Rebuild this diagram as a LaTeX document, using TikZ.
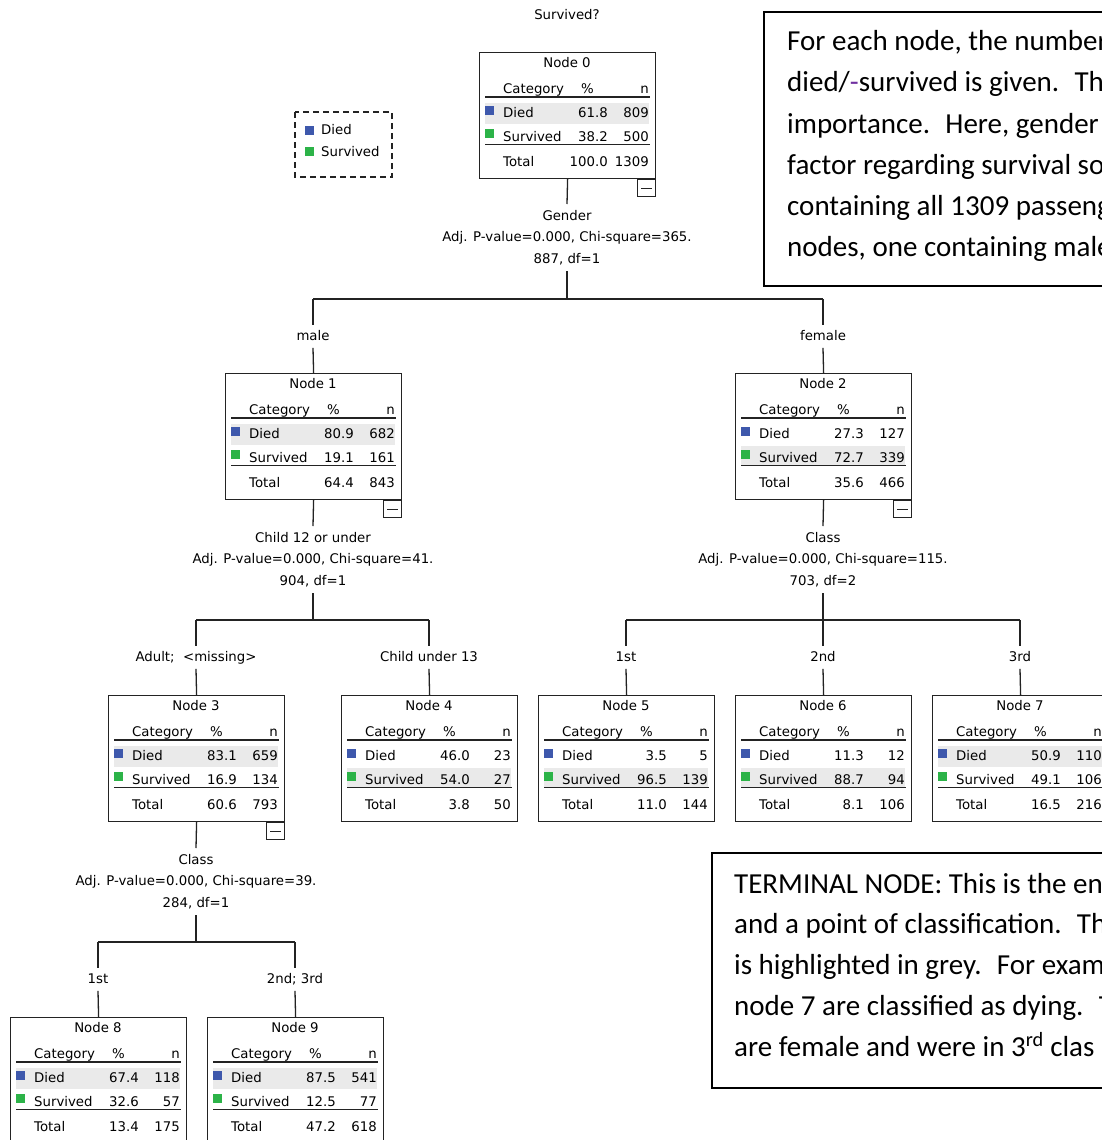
\documentclass[tikz,border=0pt]{standalone}
\usepackage{fontspec}
\setmainfont{DejaVu Sans}
\newfontfamily\cfont{Carlito}
\usetikzlibrary{calc}
\definecolor{diedc}{RGB}{62,88,172}
\definecolor{survc}{RGB}{44,179,72}
\definecolor{bandc}{RGB}{234,234,234}
\definecolor{linec}{RGB}{35,35,35}
\definecolor{notec}{RGB}{112,48,160}
\newcommand\tfont{\fontsize{13.3}{21.5}\selectfont}
\newcommand\calfont{\cfont\fontsize{29}{41}\selectfont}
\tikzset{
 tt/.style={font=\tfont, inner sep=0pt, text=black},
 nodebox/.style={draw=linec, line width=1.2pt, minimum width=176pt, minimum height=126pt, inner sep=0pt},
 rulel/.style={draw=linec, line width=1.2pt},
 rulet/.style={draw=linec, line width=1.8pt},
 conn/.style={draw=linec, line width=1.3pt},
 splitlab/.style={font=\tfont, align=center, inner xsep=0pt, inner ysep=6pt, anchor=north},
 edgelab/.style={font=\tfont, inner xsep=0pt, inner ysep=5pt, text height=10pt, text depth=2.5pt, anchor=north},
 minusbox/.style={draw=linec, line width=1.2pt, minimum width=18pt, minimum height=17pt, inner sep=0pt, anchor=north east},
 calloutbox/.style={draw=black, line width=1.5pt},
 cline/.style={font=\calfont, inner sep=0pt, anchor=base west, text=black},
 legbox/.style={draw=linec, line width=1.2pt, dash pattern=on 6pt off 4pt},
}
% #1 name, #2 x,y top-left, #3 number, #4 died %, #5 died n, #6 surv %, #7 surv n, #8 total %, #9 total n
\newcommand\tnode[9]{%
 \begin{scope}[shift={(#2)}]
  \ifnum\hl=1 \fill[bandc] (6,51) rectangle (170,72);\else \fill[bandc] (6,73) rectangle (170,92);\fi
  \node[nodebox,anchor=north west] (#1) at (0,0) {};
  \node[tt,anchor=base] at (88,15.8) {Node #3};
  \node[tt,anchor=base west] at (24,41.3) {Category};
  \node[tt,anchor=base east] at (115,41.3) {\%};
  \node[tt,anchor=base east] at (170,41.3) {n};
  \draw[rulel] (6,45) -- (171,45);
  \fill[diedc] (6,54) rectangle (15,63);
  \node[tt,anchor=base west] at (24,65.8) {Died};
  \node[tt,anchor=base east] at (129,65.8) {#4};
  \node[tt,anchor=base east] at (170,65.8) {#5};
  \fill[survc] (6,77) rectangle (15,86);
  \node[tt,anchor=base west] at (24,89.6) {Survived};
  \node[tt,anchor=base east] at (129,89.6) {#6};
  \node[tt,anchor=base east] at (170,89.6) {#7};
  \draw[rulet] (6,92.5) -- (171,92.5);
  \node[tt,anchor=base west] at (24,114) {Total};
  \node[tt,anchor=base east] at (129,114) {#8};
  \node[tt,anchor=base east] at (170,114) {#9};
 \end{scope}}
\newcommand\collapsebox[1]{%
 \node[minusbox] (#1m) at (#1.south east) {};
 \draw[rulel] ($(#1m.center)+(-5.5,0)$) -- ($(#1m.center)+(5.5,0)$);}
\begin{document}
\begin{tikzpicture}[x=1pt,y=-1pt]
\useasboundingbox (0,0) rectangle (1102,1140);
\fill[white] (0,0) rectangle (1102,1140);
\clip (0,0) rectangle (1102,1140);

\node[tt] (title) at (567,15) {Survived?};

% legend
\draw[legbox] (295,112) rectangle (392,177);
\fill[diedc] (305,126) rectangle (314,135);
\node[tt,anchor=base west] (legd) at (321,134.8) {Died};
\fill[survc] (305,147) rectangle (314,156);
\node[tt,anchor=base west] (legs) at (321,156.8) {Survived};

% tree nodes
\def\hl{1}\tnode{n0}{479,52}{0}{61.8}{809}{38.2}{500}{100.0}{1309}
\def\hl{1}\tnode{n1}{225,373}{1}{80.9}{682}{19.1}{161}{64.4}{843}
\def\hl{2}\tnode{n2}{735,373}{2}{27.3}{127}{72.7}{339}{35.6}{466}
\def\hl{1}\tnode{n3}{108,695}{3}{83.1}{659}{16.9}{134}{60.6}{793}
\def\hl{2}\tnode{n4}{341,695}{4}{46.0}{23}{54.0}{27}{3.8}{50}
\def\hl{2}\tnode{n5}{538,695}{5}{3.5}{5}{96.5}{139}{11.0}{144}
\def\hl{2}\tnode{n6}{735,695}{6}{11.3}{12}{88.7}{94}{8.1}{106}
\def\hl{1}\tnode{n7}{932,695}{7}{50.9}{110}{49.1}{106}{16.5}{216}
\def\hl{1}\tnode{n8}{10,1017}{8}{67.4}{118}{32.6}{57}{13.4}{175}
\def\hl{1}\tnode{n9}{207,1017}{9}{87.5}{541}{12.5}{77}{47.2}{618}
\collapsebox{n0}
\collapsebox{n1}
\collapsebox{n2}
\collapsebox{n3}

% split 0
\node[splitlab] (s0) at (567,204) {Gender\\Adj. P-value=0.000, Chi-square=365.\\887, df=1};
\draw[conn] (n0.south) -- (s0.north);
\coordinate (j0) at (567,299);
\draw[conn] (s0.south) -- (j0);
\node[edgelab] (e1) at (313,325) {male};
\node[edgelab] (e2) at (823,325) {female};
\draw[conn] (e1.north |- j0) -- (e2.north |- j0);
\draw[conn] (e1.north |- j0) -- (e1.north);
\draw[conn] (e2.north |- j0) -- (e2.north);
\draw[conn] (e1.south) -- (n1.north);
\draw[conn] (e2.south) -- (n2.north);

% split 1
\node[splitlab] (s1) at (313,526) {Child 12 or under\\Adj. P-value=0.000, Chi-square=41.\\904, df=1};
\draw[conn] (n1.south) -- (s1.north);
\coordinate (j1) at (313,620);
\draw[conn] (s1.south) -- (j1);
\node[edgelab] (e3) at (196,646) {Adult;~ <missing>};
\node[edgelab] (e4) at (429,646) {Child under 13};
\draw[conn] (e3.north |- j1) -- (e4.north |- j1);
\draw[conn] (e3.north |- j1) -- (e3.north);
\draw[conn] (e4.north |- j1) -- (e4.north);
\draw[conn] (e3.south) -- (n3.north);
\draw[conn] (e4.south) -- (n4.north);

% split 2
\node[splitlab] (s2) at (823,526) {Class\\Adj. P-value=0.000, Chi-square=115.\\703, df=2};
\draw[conn] (n2.south) -- (s2.north);
\coordinate (j2) at (823,620);
\draw[conn] (s2.south) -- (j2);
\node[edgelab] (e5) at (626,646) {1st};
\node[edgelab] (e6) at (823,646) {2nd};
\node[edgelab] (e7) at (1020,646) {3rd};
\draw[conn] (e5.north |- j2) -- (e7.north |- j2);
\draw[conn] (e5.north |- j2) -- (e5.north);
\draw[conn] (e6.north |- j2) -- (e6.north);
\draw[conn] (e7.north |- j2) -- (e7.north);
\draw[conn] (e5.south) -- (n5.north);
\draw[conn] (e6.south) -- (n6.north);
\draw[conn] (e7.south) -- (n7.north);

% split 3
\node[splitlab] (s3) at (196,848) {Class\\Adj. P-value=0.000, Chi-square=39.\\284, df=1};
\draw[conn] (n3.south) -- (s3.north);
\coordinate (j3) at (196,942);
\draw[conn] (s3.south) -- (j3);
\node[edgelab] (e8) at (98,968) {1st};
\node[edgelab] (e9) at (295,968) {2nd; 3rd};
\draw[conn] (e8.north |- j3) -- (e9.north |- j3);
\draw[conn] (e8.north |- j3) -- (e8.north);
\draw[conn] (e9.north |- j3) -- (e9.north);
\draw[conn] (e8.south) -- (n8.north);
\draw[conn] (e9.south) -- (n9.north);

% callout 1
\draw[calloutbox] (764,12) rectangle (1120,286);
\node[cline] (c11) at (787,51) {For each node, the number};
\node[cline] (c12) at (787,92) {died/{\color{notec}-}survived is given.~ The};
\node[cline] (c13) at (787,133) {importance.~ Here, gender};
\node[cline] (c14) at (787,174) {factor regarding survival so};
\node[cline] (c15) at (787,215) {containing all 1309 passeng};
\node[cline] (c16) at (787,256) {nodes, one containing male};

% callout 2
\draw[calloutbox] (712,853) rectangle (1120,1088);
\node[cline] (c21) at (734,893) {TERMINAL NODE: This is the en};
\node[cline] (c22) at (734,933.5) {and a point of classification.~ Th};
\node[cline] (c23) at (734,974) {is highlighted in grey.~ For exam};
\node[cline] (c24) at (734,1015) {node 7 are classified as dying.~ T};
\node[cline] (c25) at (734,1056) {are female and were in 3\textsuperscript{rd} clas};
\end{tikzpicture}
\end{document}
